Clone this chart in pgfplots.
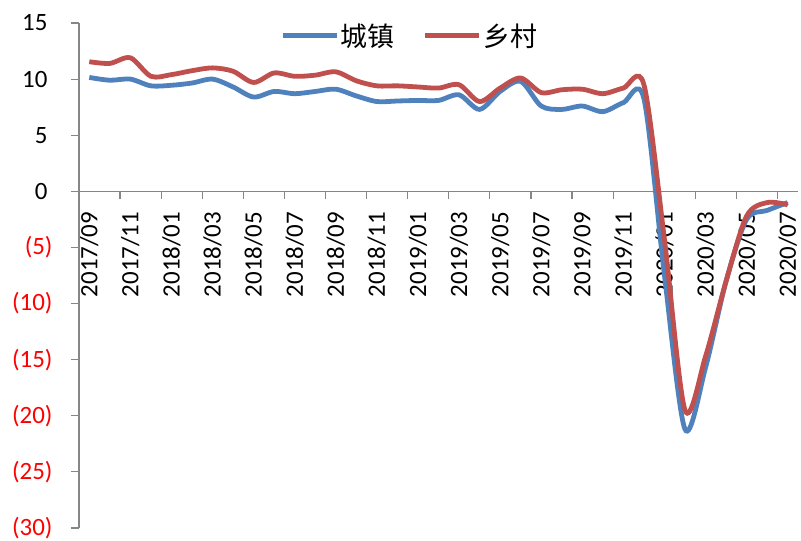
\documentclass[border=0pt]{standalone}
\usepackage{fontspec}
\setmainfont{Carlito}
\newfontfamily\cjk{Noto Sans CJK SC}
\usepackage{pgfplots}
\pgfplotsset{compat=1.18}
\usepackage{pgfplotstable}

\definecolor{seriesblue}{HTML}{4F81BD}
\definecolor{seriesred}{HTML}{C0504D}
\definecolor{axisgray}{HTML}{868686}

% month index (0 = 2017/09), urban, rural
\pgfplotstableread{
i  urban  rural
0  10.15  11.55
1  9.9    11.4
2  10.0   11.9
3  9.4    10.25
4  9.45   10.4
5  9.65   10.75
6  10.0   11.0
7  9.3    10.7
8  8.4    9.7
9  8.9    10.55
10 8.7    10.25
11 8.9    10.35
12 9.1    10.65
13 8.5    9.85
14 8.0    9.4
15 8.05   9.4
16 8.1    9.3
17 8.1    9.2
18 8.6    9.5
19 7.3    8.0
20 8.9    9.2
21 9.8    10.1
22 7.6    8.8
23 7.3    9.05
24 7.6    9.1
25 7.1    8.7
26 7.9    9.2
27 8.25   9.5
28 -7.5   -4.3
29 -21.2  -19.5
30 -15.7  -14.7
31 -8.0   -8.0
32 -2.5   -2.2
33 -1.7   -1.0
34 -1.0   -1.2
}\sales

\begin{document}
\begin{tikzpicture}
\begin{axis}[
    set layers,
    scale only axis,
    width=719bp, height=505bp,
    xmin=-0.5, xmax=34.5,
    ymin=-30, ymax=15,
    axis x line=middle,
    axis y line=left,
    axis line style={draw=axisgray, line width=1.2bp, -},
    tick style={draw=axisgray, line width=1.2bp},
    tick align=outside,
    major tick length=8bp,
    xtick={-0.5,1.5,...,33.5},
    xticklabels={},
    extra x ticks={0,2,...,34},
    extra x tick labels={2017/09,2017/11,2018/01,2018/03,2018/05,2018/07,2018/09,2018/11,2019/01,2019/03,2019/05,2019/07,2019/09,2019/11,2020/01,2020/03,2020/05,2020/07},
    extra x tick style={major tick length=0pt, tick label style={yshift=-17bp, rotate=90, anchor=east, font=\fontsize{25}{28}\selectfont}},
    ytick={-30,-25,...,15},
    yticklabels={\textcolor{red}{(30)},\textcolor{red}{(25)},\textcolor{red}{(20)},\textcolor{red}{(15)},\textcolor{red}{(10)},\textcolor{red}{(5)},0\kern5bp,5\kern5bp,10\kern5bp,15\kern5bp},
    yticklabel style={font=\fontsize{25}{28}\selectfont, xshift=-15bp},
    legend columns=2,
    legend style={at={(0.46,0.975)}, anchor=center, draw=none, fill=none,
        font=\cjk\fontsize{27}{30}\selectfont,
        /tikz/every even column/.append style={column sep=26bp}},
    legend image code/.code={\draw[#1] (0bp,0bp) -- (54bp,0bp);},
    clip=false,
]
\addplot[seriesblue, line width=4.8bp, smooth, tension=0.5] table[x=i, y=urban] {\sales};
\addplot[seriesred, line width=4.8bp, smooth, tension=0.5] table[x=i, y=rural] {\sales};
\legend{城镇,乡村}
\end{axis}
\pgfresetboundingbox
\useasboundingbox (-79bp,-13bp) rectangle (722bp,528bp);
\end{tikzpicture}
\end{document}
